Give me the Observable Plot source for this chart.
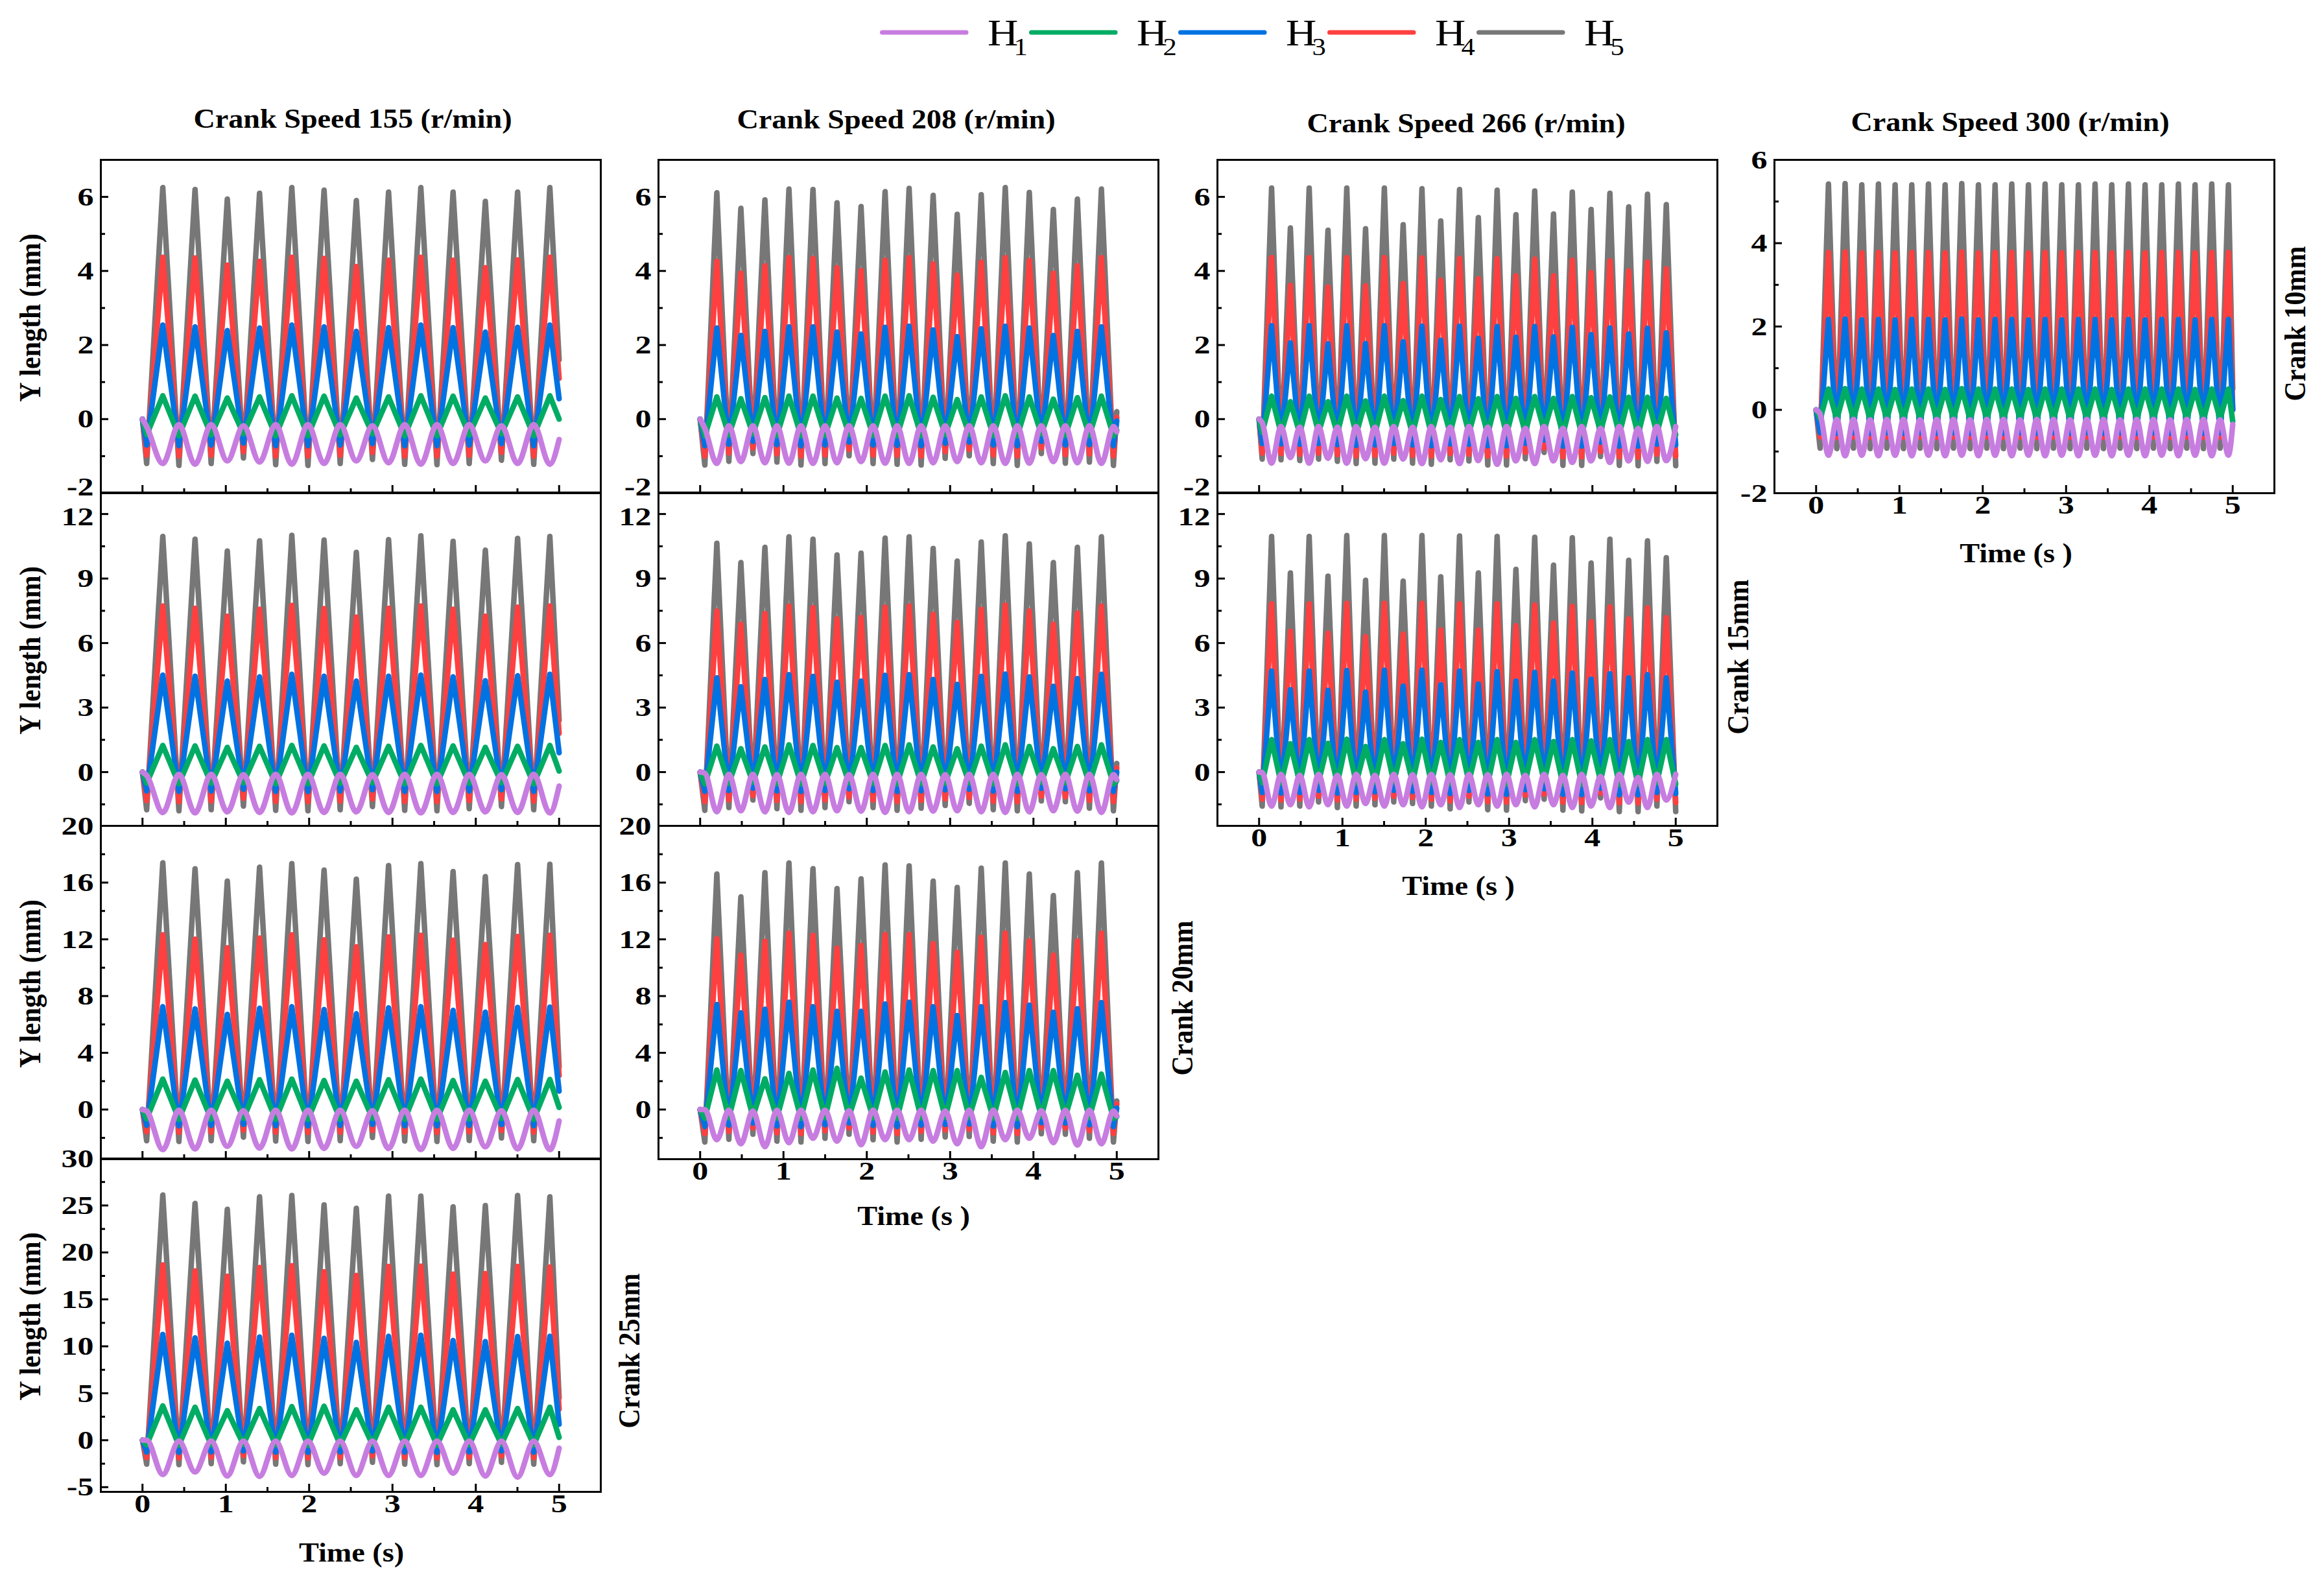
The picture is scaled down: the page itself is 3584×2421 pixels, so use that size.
<!DOCTYPE html>
<html><head><meta charset="utf-8">
<script src="https://cdn.jsdelivr.net/npm/d3@7"></script>
<script src="https://cdn.jsdelivr.net/npm/@observablehq/plot@0.6"></script>
<style>
html,body{margin:0;padding:0;background:#fff;}
#fig{position:relative;width:3584px;height:2421px;background:#fff;overflow:hidden;}
.cell{position:absolute;}
</style></head><body><div id="fig"></div>
<script>
// ---------------- data ----------------
const seriesNames = ["H1", "H2", "H3", "H4", "H5"];
const seriesColors = ["#C77DE0", "#00AC64", "#0072E2", "#FF4040", "#777777"];
const crankSpeeds = [155, 208, 266, 300];            // r/min (columns)
const firstTrough = [0.05, 0.056, 0.037, 0.048];     // s, first trough of H2..H5 in each column
const crankLengths = [10, 15, 20, 25];               // mm (rows)
const xMajorTicks = [0, 1, 2, 3, 4, 5];
const xMinorTicks = [0.5, 1.5, 2.5, 3.5, 4.5];
// values at t = 0, then every half crank period from the first trough, then t = 5 s

const s155c10 = {
  H5: [0, -1.2,6.25, -1.25,6.2, -1.2,5.94, -1.05,6.1, -1.23,6.25, -1.25,6.18, -1.2,5.9, -1.09,6.13, -1.22,6.25, -1.23,6.13, -1.2,5.88, -1.11,6.13, -1.22,6.25, 1.6],
  H4: [0, -0.98,4.37, -1.0,4.35, -0.98,4.16, -0.88,4.26, -1.0,4.37, -1.0,4.34, -0.98,4.12, -0.9,4.29, -1.0,4.37, -1.0,4.29, -0.98,4.09, -0.9,4.3, -1.0,4.37, 1.1],
  H3: [0, -0.7,2.54, -0.72,2.49, -0.7,2.39, -0.65,2.46, -0.72,2.54, -0.72,2.49, -0.7,2.37, -0.66,2.47, -0.72,2.54, -0.72,2.47, -0.7,2.35, -0.66,2.48, -0.72,2.54, 0.55],
  H2: [0, -0.42,0.63, -0.45,0.62, -0.43,0.57, -0.4,0.6, -0.45,0.63, -0.45,0.62, -0.43,0.57, -0.4,0.6, -0.45,0.63, -0.45,0.62, -0.43,0.57, -0.4,0.6, -0.45,0.63, 0.0],
  H1: [0, -0.2, -1.2,-0.15, -1.22,-0.15, -1.13,-0.18, -1.16,-0.15, -1.22,-0.15, -1.2,-0.15, -1.13,-0.18, -1.18,-0.15, -1.22,-0.15, -1.2,-0.15, -1.13,-0.18, -1.2,-0.15, -1.22, -0.55]
};
const s155c15 = {
  H5: [0, -1.75,10.96, -1.8,10.83, -1.75,10.28, -1.58,10.75, -1.78,11.01, -1.8,10.79, -1.75,10.22, -1.6,10.81, -1.78,10.99, -1.8,10.73, -1.7,10.32, -1.6,10.87, -1.75,10.96, 2.4],
  H4: [0, -1.33,7.72, -1.38,7.62, -1.35,7.25, -1.22,7.57, -1.37,7.75, -1.38,7.6, -1.35,7.21, -1.25,7.62, -1.37,7.72, -1.38,7.57, -1.33,7.25, -1.25,7.67, -1.35,7.72, 1.8],
  H3: [0, -0.88,4.51, -0.9,4.46, -0.88,4.23, -0.8,4.43, -0.9,4.55, -0.9,4.46, -0.88,4.23, -0.82,4.46, -0.9,4.51, -0.9,4.43, -0.88,4.25, -0.82,4.48, -0.9,4.55, 0.9],
  H2: [0, -0.52,1.24, -0.55,1.22, -0.53,1.15, -0.5,1.2, -0.55,1.24, -0.55,1.22, -0.53,1.15, -0.5,1.2, -0.55,1.24, -0.55,1.22, -0.53,1.15, -0.5,1.2, -0.55,1.24, 0.05],
  H1: [0, -0.15, -1.88,-0.1, -1.9,-0.1, -1.85,-0.12, -1.88,-0.1, -1.9,-0.1, -1.88,-0.1, -1.85,-0.12, -1.88,-0.1, -1.9,-0.1, -1.88,-0.1, -1.85,-0.12, -1.88,-0.1, -1.9, -0.65]
};
const s155c20 = {
  H5: [0, -2.2,17.39, -2.25,16.97, -2.2,16.1, -1.95,17.08, -2.22,17.34, -2.25,16.88, -2.2,16.24, -1.97,17.2, -2.22,17.34, -2.25,16.78, -2.18,16.42, -2.0,17.27, -2.2,17.29, 3.0],
  H4: [0, -1.58,12.32, -1.62,12.01, -1.6,11.4, -1.45,12.09, -1.6,12.32, -1.62,11.97, -1.6,11.47, -1.47,12.17, -1.6,12.29, -1.62,11.94, -1.58,11.63, -1.48,12.2, -1.6,12.29, 2.4],
  H3: [0, -1.12,7.25, -1.15,7.1, -1.12,6.71, -1.05,7.14, -1.14,7.25, -1.15,7.05, -1.12,6.75, -1.05,7.17, -1.14,7.25, -1.15,6.99, -1.12,6.87, -1.06,7.2, -1.14,7.22, 1.3],
  H2: [0, -0.66,2.15, -0.7,2.08, -0.68,2.0, -0.62,2.1, -0.7,2.15, -0.7,2.05, -0.68,2.0, -0.62,2.1, -0.7,2.15, -0.7,2.05, -0.68,2.0, -0.63,2.12, -0.7,2.12, 0.15],
  H1: [0, -0.1, -2.83,-0.05, -2.78,-0.05, -2.6,-0.08, -2.72,-0.05, -2.78,-0.05, -2.75,-0.05, -2.6,-0.08, -2.75,-0.05, -2.83,-0.05, -2.75,-0.05, -2.63,-0.08, -2.78,-0.05, -2.83, -0.8]
};
const s155c25 = {
  H5: [0, -2.55,26.11, -2.6,25.21, -2.5,24.59, -2.3,25.92, -2.55,26.06, -2.6,25.07, -2.5,24.7, -2.35,26.0, -2.55,26.0, -2.6,24.85, -2.5,24.99, -2.35,26.06, -2.55,25.92, 4.5],
  H4: [0, -1.85,18.68, -1.9,18.03, -1.82,17.46, -1.65,18.39, -1.85,18.59, -1.9,17.94, -1.82,17.55, -1.68,18.51, -1.85,18.54, -1.9,17.69, -1.82,17.75, -1.68,18.51, -1.85,18.45, 3.3],
  H3: [0, -1.27,11.27, -1.3,10.9, -1.25,10.34, -1.15,10.99, -1.27,11.18, -1.3,10.85, -1.25,10.42, -1.15,11.07, -1.27,11.18, -1.3,10.62, -1.25,10.51, -1.15,11.04, -1.27,11.07, 1.7],
  H2: [0, -0.5,3.66, -0.55,3.52, -0.5,3.15, -0.45,3.38, -0.52,3.58, -0.55,3.63, -0.5,3.24, -0.45,3.52, -0.52,3.52, -0.55,3.24, -0.5,3.24, -0.45,3.38, -0.52,3.52, 0.3],
  H1: [0, 0.0, -3.66,-0.1, -3.38,-0.1, -3.8,-0.1, -3.86,-0.1, -3.75,-0.1, -3.52,-0.1, -3.75,-0.1, -3.75,-0.1, -3.75,-0.1, -3.52,-0.1, -3.8,-0.1, -3.94,-0.1, -3.66, -0.85]
};
const s208c10 = {
  H5: [0, -1.24,6.11, -1.14,5.69, -0.93,5.92, -1.16,6.21, -1.24,6.2, -1.2,5.84, -0.99,5.74, -1.2,6.14, -1.22,6.23, -1.24,6.04, -1.06,5.53, -0.99,6.06, -1.2,6.25, -1.25,6.12, -0.93,5.66, -1.19,5.94, -1.16,6.21, -1.25, 0.2],
  H4: [0, -1.0,4.26, -0.92,3.94, -0.78,4.14, -0.94,4.36, -1.0,4.34, -0.97,4.09, -0.82,4.01, -0.97,4.29, -0.98,4.36, -1.0,4.19, -0.88,3.89, -0.82,4.24, -0.97,4.36, -1.0,4.28, -0.78,3.94, -0.96,4.14, -0.94,4.36, -1.0, 0.05],
  H3: [0, -0.72,2.46, -0.68,2.26, -0.6,2.37, -0.69,2.49, -0.72,2.49, -0.7,2.35, -0.62,2.3, -0.7,2.48, -0.71,2.51, -0.72,2.41, -0.65,2.23, -0.62,2.44, -0.7,2.51, -0.72,2.46, -0.6,2.26, -0.7,2.37, -0.69,2.49, -0.72, -0.05],
  H2: [0, -0.45,0.6, -0.43,0.55, -0.4,0.58, -0.44,0.62, -0.45,0.62, -0.44,0.57, -0.41,0.56, -0.44,0.62, -0.45,0.63, -0.45,0.59, -0.42,0.53, -0.41,0.6, -0.44,0.63, -0.45,0.6, -0.4,0.54, -0.44,0.58, -0.44,0.62, -0.45, -0.3],
  H1: [0, -0.25, -1.2,-0.18, -1.15,-0.18, -1.18,-0.18, -1.19,-0.18, -1.2,-0.18, -1.18,-0.18, -1.15,-0.18, -1.19,-0.18, -1.2,-0.18, -1.18,-0.18, -1.15,-0.18, -1.18,-0.18, -1.2,-0.18, -1.19,-0.18, -1.15,-0.18, -1.18,-0.18, -1.2,-0.2, -0.34]
};
const s208c15 = {
  H5: [0, -1.78,10.64, -1.65,9.74, -1.3,10.45, -1.7,10.94, -1.78,10.83, -1.65,10.1, -1.38,10.18, -1.65,10.88, -1.78,10.94, -1.68,10.4, -1.55,9.81, -1.45,10.7, -1.75,10.99, -1.8,10.61, -1.34,9.74, -1.38,10.45, -1.68,10.94, -1.8, 0.4],
  H4: [0, -1.38,7.49, -1.3,6.88, -1.1,7.37, -1.33,7.72, -1.38,7.65, -1.3,7.13, -1.15,7.19, -1.3,7.67, -1.38,7.72, -1.32,7.34, -1.25,6.96, -1.18,7.57, -1.36,7.77, -1.38,7.49, -1.12,6.88, -1.15,7.4, -1.32,7.72, -1.38, 0.2],
  H3: [0, -0.9,4.38, -0.86,3.97, -0.75,4.31, -0.88,4.53, -0.9,4.45, -0.86,4.18, -0.78,4.23, -0.86,4.5, -0.9,4.53, -0.87,4.31, -0.83,4.08, -0.8,4.45, -0.89,4.56, -0.9,4.43, -0.76,3.99, -0.78,4.35, -0.87,4.55, -0.9, 0.0],
  H2: [0, -0.55,1.21, -0.53,1.09, -0.48,1.17, -0.54,1.27, -0.55,1.24, -0.53,1.14, -0.5,1.14, -0.53,1.24, -0.55,1.27, -0.54,1.17, -0.52,1.09, -0.5,1.21, -0.55,1.27, -0.55,1.19, -0.48,1.09, -0.5,1.19, -0.54,1.27, -0.55, -0.4],
  H1: [0, -0.05, -1.85,-0.1, -1.8,-0.1, -1.85,-0.12, -1.88,-0.1, -1.85,-0.1, -1.8,-0.12, -1.82,-0.1, -1.88,-0.1, -1.85,-0.1, -1.82,-0.12, -1.8,-0.1, -1.85,-0.1, -1.88,-0.1, -1.85,-0.12, -1.8,-0.1, -1.82,-0.1, -1.88,-0.12, -0.35]
};
const s208c20 = {
  H5: [0, -2.29,16.6, -2.1,14.99, -1.74,16.7, -2.23,17.38, -2.29,16.98, -2.03,15.58, -1.74,16.26, -2.13,17.24, -2.29,17.18, -2.1,16.1, -1.94,15.66, -1.9,17.02, -2.23,17.38, -2.29,16.6, -1.71,15.08, -1.74,16.7, -2.03,17.38, -2.29, 0.6],
  H4: [0, -1.7,12.05, -1.55,10.89, -1.3,11.86, -1.65,12.44, -1.7,12.29, -1.5,11.38, -1.3,11.57, -1.6,12.34, -1.7,12.34, -1.55,11.7, -1.45,11.08, -1.4,12.15, -1.65,12.44, -1.7,11.9, -1.28,10.89, -1.3,11.9, -1.5,12.44, -1.7, 0.4],
  H3: [0, -1.2,7.4, -1.1,6.82, -0.95,7.07, -1.16,7.56, -1.2,7.25, -1.08,6.92, -0.95,6.92, -1.12,7.44, -1.2,7.56, -1.1,7.25, -1.05,6.63, -1.02,7.25, -1.16,7.54, -1.2,7.36, -0.93,6.86, -0.95,7.11, -1.08,7.54, -1.2, 0.1],
  H2: [0, -0.62,2.79, -0.58,2.75, -0.5,2.17, -0.6,2.55, -0.62,2.79, -0.57,2.91, -0.5,2.21, -0.58,2.65, -0.62,2.79, -0.58,2.75, -0.55,2.75, -0.55,2.27, -0.6,2.62, -0.62,2.75, -0.5,2.75, -0.5,2.42, -0.57,2.5, -0.62, -0.5],
  H1: [0, 0.0, -2.13,-0.05, -2.42,-0.1, -2.62,-0.05, -2.33,-0.05, -2.03,-0.05, -2.23,-0.08, -2.48,-0.05, -2.13,-0.05, -2.13,-0.05, -2.23,-0.1, -2.42,-0.05, -2.62,-0.05, -2.13,-0.05, -2.03,-0.08, -2.33,-0.05, -2.52,-0.05, -2.42,-0.1, -0.45]
};
const s266c10 = {
  H5: [0, -1.08,6.24, -1.1,5.16, -1.12,6.24, -1.08,5.1, -1.14,6.24, -1.2,5.14, -1.19,6.24, -1.08,5.25, -1.19,6.22, -1.22,5.35, -1.1,6.2, -1.13,5.44, -1.24,6.18, -1.24,5.52, -1.07,6.16, -0.9,5.54, -1.25,6.13, -1.25,5.66, -1.01,6.1, -1.25,5.73, -1.26,6.07, -1.14,5.79, -1.26],
  H4: [0, -0.92,4.36, -0.93,3.61, -0.95,4.36, -0.92,3.57, -0.96,4.36, -1.0,3.6, -0.98,4.36, -0.92,3.66, -0.98,4.35, -1.0,3.75, -0.93,4.34, -0.95,3.79, -1.0,4.33, -1.0,3.87, -0.9,4.32, -0.78,3.87, -1.02,4.29, -1.02,3.96, -0.88,4.27, -1.02,4.0, -1.03,4.24, -0.95,4.06, -1.0],
  H3: [0, -0.66,2.52, -0.67,2.06, -0.68,2.52, -0.66,2.03, -0.69,2.52, -0.71,2.04, -0.7,2.52, -0.66,2.09, -0.7,2.51, -0.72,2.13, -0.67,2.51, -0.68,2.18, -0.72,2.5, -0.72,2.21, -0.65,2.5, -0.56,2.22, -0.73,2.48, -0.73,2.28, -0.62,2.46, -0.73,2.3, -0.73,2.45, -0.68,2.33, -0.7],
  H2: [0, -0.36,0.62, -0.37,0.47, -0.38,0.62, -0.36,0.47, -0.38,0.62, -0.4,0.49, -0.39,0.62, -0.36,0.5, -0.39,0.62, -0.4,0.53, -0.37,0.61, -0.38,0.55, -0.4,0.61, -0.4,0.56, -0.36,0.61, -0.3,0.56, -0.41,0.61, -0.41,0.58, -0.34,0.6, -0.41,0.59, -0.42,0.59, -0.38,0.56, -0.42],
  H1: [0, -0.1, -1.19,-0.2, -1.04,-0.22, -1.19,-0.2, -1.06,-0.22, -1.19,-0.2, -1.07,-0.22, -1.19,-0.2, -1.08,-0.22, -1.2,-0.2, -1.1,-0.22, -1.2,-0.2, -1.12,-0.22, -1.22,-0.2, -1.13,-0.25, -1.2,-0.2, -1.13,-0.25, -1.17,-0.2, -1.13,-0.25, -1.17,-0.2, -1.13,-0.25, -1.14,-0.2, -1.12, -0.2]
};
const s266c15 = {
  H5: [0, -1.58,10.96, -1.62,9.26, -1.58,10.96, -1.39,9.11, -1.65,11.0, -1.58,8.92, -1.52,11.0, -1.39,8.88, -1.46,11.0, -1.58,9.08, -1.71,10.98, -1.39,9.26, -1.75,10.96, -1.77,9.43, -1.33,10.92, -1.26,9.62, -1.77,10.9, -1.81,9.72, -1.2,10.83, -1.84,9.85, -1.84,10.75, -1.58,9.97, -1.84],
  H4: [0, -1.26,7.83, -1.3,6.55, -1.26,7.83, -1.12,6.46, -1.3,7.85, -1.26,6.3, -1.22,7.85, -1.12,6.42, -1.18,7.85, -1.26,6.61, -1.35,7.83, -1.12,6.61, -1.38,7.83, -1.4,6.8, -1.08,7.77, -1.02,6.93, -1.4,7.71, -1.42,6.99, -0.98,7.68, -1.44,7.12, -1.44,7.64, -1.26,7.18, -1.42],
  H3: [0, -0.95,4.7, -0.98,3.83, -0.95,4.7, -0.85,3.8, -0.98,4.72, -0.95,3.72, -0.92,4.74, -0.85,4.0, -0.9,4.74, -0.95,4.06, -1.0,4.7, -0.85,4.1, -1.02,4.67, -1.04,4.23, -0.82,4.64, -0.78,4.23, -1.04,4.61, -1.05,4.32, -0.75,4.57, -1.06,4.38, -1.06,4.53, -0.95,4.38, -1.0],
  H2: [0, -0.5,1.51, -0.52,1.32, -0.5,1.51, -0.45,1.34, -0.52,1.53, -0.5,1.19, -0.48,1.51, -0.45,1.32, -0.47,1.53, -0.5,1.38, -0.54,1.51, -0.45,1.38, -0.55,1.51, -0.56,1.38, -0.43,1.51, -0.41,1.42, -0.56,1.51, -0.57,1.45, -0.4,1.51, -0.58,1.42, -0.58,1.51, -0.5,1.51, -0.55],
  H1: [0, -0.02, -1.58,-0.1, -1.52,-0.15, -1.62,-0.1, -1.52,-0.15, -1.58,-0.1, -1.46,-0.15, -1.58,-0.1, -1.52,-0.12, -1.62,-0.1, -1.52,-0.12, -1.65,-0.1, -1.52,-0.12, -1.58,-0.1, -1.52,-0.15, -1.62,-0.1, -1.52,-0.15, -1.65,-0.1, -1.58,-0.2, -1.65,-0.1, -1.4,-0.25, -1.65,-0.1, -1.3, -0.1]
};
const s300c10 = {
  H5: [0, -0.92,5.42, -0.93,5.43, -0.92,5.4, -0.93,5.42, -0.92,5.4, -0.93,5.4, -0.92,5.42, -0.93,5.4, -0.92,5.43, -0.93,5.4, -0.92,5.4, -0.93,5.42, -0.92,5.4, -0.93,5.42, -0.92,5.4, -0.93,5.4, -0.92,5.42, -0.93,5.4, -0.92,5.42, -0.93,5.4, -0.92,5.4, -0.93,5.42, -0.92,5.4, -0.93,5.42, -0.92,5.4, 0.5],
  H4: [0, -0.65,3.78, -0.66,3.79, -0.65,3.77, -0.66,3.78, -0.65,3.77, -0.66,3.78, -0.65,3.78, -0.66,3.77, -0.65,3.79, -0.66,3.77, -0.65,3.78, -0.66,3.78, -0.65,3.77, -0.66,3.78, -0.65,3.77, -0.66,3.78, -0.65,3.78, -0.66,3.77, -0.65,3.78, -0.66,3.77, -0.65,3.78, -0.66,3.78, -0.65,3.77, -0.66,3.78, -0.65,3.78, 0.0],
  H3: [0, -0.55,2.17, -0.56,2.18, -0.55,2.16, -0.56,2.17, -0.55,2.16, -0.56,2.17, -0.55,2.17, -0.56,2.16, -0.55,2.18, -0.56,2.16, -0.55,2.17, -0.56,2.17, -0.55,2.16, -0.56,2.17, -0.55,2.16, -0.56,2.17, -0.55,2.17, -0.56,2.16, -0.55,2.17, -0.56,2.16, -0.55,2.17, -0.56,2.17, -0.55,2.16, -0.56,2.17, -0.55,2.17, 0.0],
  H2: [0, -0.22,0.5, -0.23,0.51, -0.22,0.5, -0.23,0.5, -0.22,0.49, -0.23,0.5, -0.22,0.5, -0.23,0.49, -0.22,0.51, -0.23,0.5, -0.22,0.5, -0.23,0.5, -0.22,0.49, -0.23,0.5, -0.22,0.5, -0.23,0.5, -0.22,0.5, -0.23,0.49, -0.22,0.5, -0.23,0.5, -0.22,0.5, -0.23,0.5, -0.22,0.49, -0.23,0.5, -0.22,0.5, -0.28],
  H1: [0, -0.1, -1.09,-0.23, -1.1,-0.23, -1.09,-0.24, -1.1,-0.23, -1.09,-0.23, -1.1,-0.24, -1.09,-0.23, -1.1,-0.23, -1.09,-0.24, -1.1,-0.23, -1.09,-0.23, -1.1,-0.24, -1.09,-0.23, -1.1,-0.23, -1.09,-0.24, -1.1,-0.23, -1.09,-0.23, -1.1,-0.24, -1.09,-0.23, -1.1,-0.23, -1.09,-0.24, -1.1,-0.23, -1.09,-0.23, -1.1,-0.24, -1.09, -0.35]
};

// panels: column (speed index), row (crank index), y domain and ticks
const panelSpecs = [
  {col: 0, row: 0, data: s155c10, yDomain: [-2, 7], yMajor: [-2, 0, 2, 4, 6], yMinor: [-1, 1, 3, 5]},
  {col: 0, row: 1, data: s155c15, yDomain: [-2.5, 13], yMajor: [0, 3, 6, 9, 12], yMinor: [-1.5, 1.5, 4.5, 7.5, 10.5]},
  {col: 0, row: 2, data: s155c20, yDomain: [-3.5, 20], yMajor: [0, 4, 8, 12, 16, 20], yMinor: [-2, 2, 6, 10, 14, 18]},
  {col: 0, row: 3, data: s155c25, yDomain: [-5.5, 30], yMajor: [-5, 0, 5, 10, 15, 20, 25, 30], yMinor: [-2.5, 2.5, 7.5, 12.5, 17.5, 22.5, 27.5]},
  {col: 1, row: 0, data: s208c10, yDomain: [-2, 7], yMajor: [-2, 0, 2, 4, 6], yMinor: [-1, 1, 3, 5]},
  {col: 1, row: 1, data: s208c15, yDomain: [-2.5, 13], yMajor: [0, 3, 6, 9, 12], yMinor: [-1.5, 1.5, 4.5, 7.5, 10.5]},
  {col: 1, row: 2, data: s208c20, yDomain: [-3.5, 20], yMajor: [0, 4, 8, 12, 16, 20], yMinor: [-2, 2, 6, 10, 14, 18]},
  {col: 2, row: 0, data: s266c10, yDomain: [-2, 7], yMajor: [-2, 0, 2, 4, 6], yMinor: [-1, 1, 3, 5]},
  {col: 2, row: 1, data: s266c15, yDomain: [-2.5, 13], yMajor: [0, 3, 6, 9, 12], yMinor: [-1.5, 1.5, 4.5, 7.5, 10.5]},
  {col: 3, row: 0, data: s300c10, yDomain: [-2, 6], yMajor: [-2, 0, 2, 4, 6], yMinor: [-1, 1, 3, 5]}
];
const rowsPerColumn = [4, 3, 2, 1];

// ---------------- layout ----------------
const SERIF = '"Liberation Serif", "Times New Roman", serif';
const colLeft = [155, 1015, 1877, 2736];
const rowTop = [246, 759, 1273, 1786];
const FW = 771, FH = 514;
const ML = 90, MR = 12, MT = 30, MB = 70;
const SW = 8.5;
const TICK_FS = 41;
const TICK_SX = 1.22;

const fig = document.getElementById("fig");

function seriesPoints(vals, speed, t0) {
  const h = 30 / speed;
  const n = vals.length;
  return vals.map((v, i) => ({t: i === 0 ? 0 : (i === n - 1 ? 5 : t0 + (i - 1) * h), v}));
}

for (const p of panelSpecs) {
  const speed = crankSpeeds[p.col], t0 = firstTrough[p.col];
  const showX = p.row === rowsPerColumn[p.col] - 1;
  const marks = [];
  for (let k = seriesNames.length - 1; k >= 0; k--) {
    marks.push(Plot.line(seriesPoints(p.data[seriesNames[k]], speed, t0), {
      x: "t", y: "v", stroke: seriesColors[k], strokeWidth: SW,
      curve: k === 0 ? "monotone-x" : "linear", strokeLinejoin: "round", strokeLinecap: "round"
    }));
  }
  marks.push(Plot.tickX(xMajorTicks, {x: d => d, stroke: "#000", strokeWidth: 3, insetTop: FH - 12}));
  marks.push(Plot.tickX(xMinorTicks, {x: d => d, stroke: "#000", strokeWidth: 3, insetTop: FH - 7}));
  marks.push(Plot.tickY(p.yMajor, {y: d => d, stroke: "#000", strokeWidth: 3, insetRight: FW - 12}));
  marks.push(Plot.tickY(p.yMinor, {y: d => d, stroke: "#000", strokeWidth: 3, insetRight: FW - 7}));
  marks.push(Plot.frame({stroke: "#000", strokeWidth: 3}));
  const yLow = p.yMajor[0], yHigh = p.yMajor[p.yMajor.length - 1];
  marks.push(Plot.text(p.yMajor, {y: d => d, text: d => String(d), frameAnchor: "left", dx: -11, textAnchor: "end",
    fontSize: TICK_FS, fontWeight: "bold", fontFamily: SERIF, fill: "#000"}));
  if (showX) marks.push(Plot.text(xMajorTicks, {x: d => d, text: d => String(d), frameAnchor: "bottom", dy: 31,
    fontSize: TICK_FS, fontWeight: "bold", fontFamily: SERIF, fill: "#000"}));
  const svg = Plot.plot({
    width: ML + FW + MR, height: MT + FH + MB,
    marginLeft: ML, marginRight: MR, marginTop: MT, marginBottom: MB,
    x: {domain: [-0.5, 5.5], axis: null},
    y: {domain: p.yDomain, axis: null},
    style: {background: "none", overflow: "visible", maxWidth: "none"},
    marks
  });
  svg.querySelectorAll("text").forEach(t => {
    const tr = t.getAttribute("transform");
    if (!tr) return;
    // labels sitting next to the shared border of rows 1 and 2 are nudged apart slightly
    let nudge = "";
    if (p.row === 0 && p.col < 3 && t.textContent === String(yLow)) nudge = " translate(0,-10)";
    if (p.row === 1 && t.textContent === String(yHigh)) nudge = " translate(0,4)";
    t.setAttribute("transform", tr + nudge + ` scale(${TICK_SX},1)`);
  });
  const cell = document.createElement("div");
  cell.className = "cell";
  cell.style.left = (colLeft[p.col] - ML) + "px";
  cell.style.top = (rowTop[p.row] - MT) + "px";
  cell.appendChild(svg);
  fig.appendChild(cell);
}

// ---------------- text overlay & legend ----------------
const ov = d3.select(fig).append("svg")
  .attr("width", 3584).attr("height", 2421)
  .style("position", "absolute").style("left", "0px").style("top", "0px")
  .style("overflow", "visible")
  .attr("font-family", SERIF);

function txt(s, x, y, size, opts = {}) {
  return ov.append("text")
    .attr("transform", opts.rotate ? `translate(${x},${y}) rotate(-90) scale(1,1.1)` : `translate(${x},${y}) scale(${opts.sx ?? 1.1},1)`)
    .attr("text-anchor", opts.anchor || "middle")
    .attr("font-size", size)
    .attr("font-weight", opts.weight || "bold")
    .attr("fill", "#000")
    .text(s);
}

const titlePos = [[544, 197], [1382, 198], [2261, 204], [3100, 202]];
crankSpeeds.forEach((s, i) => txt(`Crank Speed ${s} (r/min)`, titlePos[i][0], titlePos[i][1], 42, {sx: 1.1}));

const timeLabels = ["Time (s)", "Time (s )", "Time (s )", "Time (s )"];
const timePos = [[542, 2408], [1409, 1889], [2249, 1380], [3109, 867]];
timeLabels.forEach((s, i) => txt(s, timePos[i][0], timePos[i][1], 42, {sx: 1.1}));

for (let r = 0; r < 4; r++) {
  txt("Y length (mm)", 62, rowTop[r] + FH / 2 - 13, 42, {rotate: true});
}
const crankLabelPos = [[3555, 499], [2696, 1013], [1839, 1539], [986, 2083]];
crankLengths.forEach((c, i) => txt(`Crank ${c}mm`, crankLabelPos[i][0], crankLabelPos[i][1], 42, {rotate: true}));

// legend (one text element per entry: "H" with a subscript index)
seriesNames.forEach((name, k) => {
  const x0 = 1357 + k * 230;
  ov.append("line").attr("x1", x0 + 3.5).attr("x2", x0 + 133).attr("y1", 50).attr("y2", 50)
    .attr("stroke", seriesColors[k]).attr("stroke-width", 7).attr("stroke-linecap", "round");
  const t = ov.append("text")
    .attr("transform", `translate(${x0 + 166},70) scale(1.15,1)`)
    .attr("text-anchor", "start").attr("font-size", 57).attr("fill", "#000");
  t.append("tspan").text(name[0]);
  t.append("tspan").attr("dx", -6).attr("dy", 15).attr("font-size", 37).text(name.slice(1));
});
</script></body></html>
